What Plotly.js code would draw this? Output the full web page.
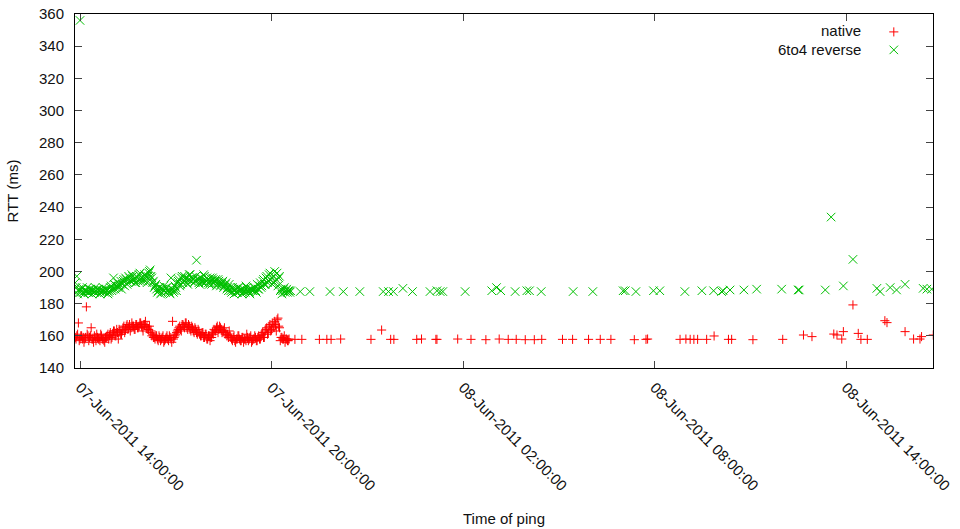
<!DOCTYPE html>
<html>
<head>
<meta charset="utf-8">
<script src="https://cdn.plot.ly/plotly-3.0.1.min.js"></script>
<style>
html,body{margin:0;padding:0;background:#fff;}
#chart{width:960px;height:529px;}
</style>
</head>
<body>
<div id="chart"></div>
<script>
// Time of ping, in minutes relative to 07-Jun-2011 14:00:00
var nativeMinutes = [
-9,-6,-3,0,3,6,9,12,15,18,21,24,27,30,33,36,39,42,45,48,51,54,57,60,63,66,69,72,75,78,81,84,87,90,93,96,99,102,105,108,
111,114,117,120,123,126,129,132,135,138,141,144,147,150,153,156,159,162,165,168,171,174,177,180,183,186,189,192,195,198,
201,204,207,210,213,216,219,222,225,228,231,234,237,240,243,246,249,252,255,258,261,264,267,270,273,276,279,282,285,288,
291,294,297,300,303,306,309,312,315,318,321,324,327,330,333,336,339,342,345,348,351,354,357,360,363,366,369,372,375,378,
381,384,387,390,393,
404,417,450,464,472,490,547,567,584,590,633,642,669,671,710,735,763,788,805,820,837,854,868,907,926,956,978,998,
1042,1064,1067,1128,1139,1147,1154,1161,1178,1192,1219,1225,1265,1321,1360,1376,1417,1423,1432,1435,1453,1463,1468,1480,
1513,1517,1551,1567,1579,1582,1604
];
// RTT (ms) of native pings
var nativeRtt = [
159,160,168,158,160,159,158,178,160,159,165,158,160,157,159,158,161,158,157,159,160,158,162,159,163,160,164,158,163,161,
165,162,166,164,167,165,166,164,167,165,166,168,165,167,169,166,164,162,160,159,158,160,157,159,158,160,157,159,158,160,
158,169,159,161,163,165,164,167,166,168,165,167,164,166,163,165,162,164,161,160,162,159,161,158,160,159,162,164,163,166,
164,165,162,163,161,160,159,160,158,159,157,158,160,158,157,159,158,157,159,158,160,157,158,159,157,160,158,161,159,163,
165,162,167,164,166,169,163,171,165,159,158,160,158,157,158,
157.8,157.8,157.8,157.8,157.8,158,157.8,163.6,157.8,157.8,157.8,158,157.8,157.8,158,157.8,157.6,158,157.8,157.8,157.6,157.6,157.8,157.8,157.8,157.8,157.8,157.8,
157.6,157.8,158,157.8,158,157.8,157.8,157.8,157.8,159.9,157.8,157.8,157.6,157.8,160.5,159.5,161.1,160.5,158,162.6,179.2,161.5,157.8,157.8,
169.4,168.2,162.6,158,158,159.5,160.5
];
// second batch of native pings inside the busy first hours
var nativeMinutesB = [
-7.5,-4.5,-1.5,1.5,4.5,7.5,10.5,13.5,16.5,19.5,22.5,25.5,28.5,31.5,34.5,37.5,40.5,43.5,46.5,49.5,52.5,
55.5,58.5,61.5,64.5,67.5,70.5,73.5,76.5,79.5,82.5,
85.5,88.5,91.5,94.5,97.5,100.5,103.5,106.5,109.5,112.5,115.5,118.5,121.5,124.5,127.5,130.5,
133.5,136.5,139.5,142.5,
145.5,148.5,151.5,154.5,157.5,160.5,163.5,166.5,169.5,172.5,175.5,178.5,181.5,
184.5,187.5,190.5,193.5,196.5,199.5,202.5,205.5,208.5,211.5,214.5,217.5,220.5,223.5,226.5,229.5,232.5,235.5,238.5,241.5,244.5,247.5,
250.5,253.5,256.5,259.5,262.5,265.5,268.5,271.5,274.5,277.5,280.5,
283.5,286.5,289.5,292.5,295.5,298.5,301.5,304.5,307.5,310.5,313.5,316.5,319.5,322.5,325.5,328.5,331.5,334.5,337.5,
340.5,343.5,346.5,349.5,352.5,355.5,358.5,361.5,364.5,367.5,370.5,373.5,
376.5,379.5,382.5,385.5,388.5,391.5
];
var nativeRttB = [
158,161,157,160,158,156,159,161,157,160,158,156,159,161,158,157,160,158,156,159,161,
160,158,161,163,160,162,164,161,163,166,
164,167,165,163,168,166,164,167,165,168,166,163,167,165,164,166,
163,161,159,160,
158,160,157,159,156,158,160,157,159,156,158,160,162,
164,166,163,167,165,168,164,166,163,165,162,164,161,163,160,162,159,161,158,160,157,159,
161,163,165,162,166,164,163,165,162,161,163,
159,157,160,156,158,160,157,159,156,158,161,157,159,156,158,160,157,159,158,
160,162,159,164,161,166,163,168,165,167,170,166,
157,159,158,156,158,157
];

var reverseMinutes = [
-9,-6,-3,0,3,6,9,12,15,18,21,24,27,30,33,36,39,42,45,48,51,54,57,60,63,66,69,72,75,78,81,84,87,90,93,96,99,102,105,108,
111,114,117,120,123,126,129,132,135,138,141,144,147,150,153,156,159,162,165,168,171,174,177,180,183,186,189,192,195,198,
201,204,207,210,213,216,219,222,225,228,231,234,237,240,243,246,249,252,255,258,261,264,267,270,273,276,279,282,285,288,
291,294,297,300,303,306,309,312,315,318,321,324,327,330,333,336,339,342,345,348,351,354,357,360,363,366,369,372,375,378,
381,384,387,390,393,396,
414,432,470,495,526,570,580,589,607,625,658,671,677,682,724,774,783,791,818,840,845,867,927,964,1021,1025,1045,1078,1090,
1137,1169,1191,1206,1209,1222,1248,1272,1319,1350,1352,1401,1412,1435,1453,1498,1504,1523,1535,1551,1585,1592,1601
];
// RTT (ms) of 6to4 reverse pings
var reverseRtt = [
193,197,188,356,189,187,188,188,187,189,188,188,187,188,189,188,187,188,188,189,188,187,190,188,196,189,191,190,192,189,
194,191,195,193,196,194,197,195,193,196,198,194,196,195,197,193,199,201,196,194,191,189,188,190,187,189,188,190,188,187,
196,189,188,190,193,195,192,197,194,196,193,195,198,196,195,194,207,195,192,196,193,197,194,195,192,194,196,193,195,192,
194,191,193,190,192,189,188,190,187,189,188,187,190,188,189,187,188,191,188,187,189,188,190,188,192,189,193,191,195,192,
197,194,199,196,193,200,195,191,197,189,188,190,188,187,188,188,
187.5,187.5,187.5,187.5,187.5,187.5,187.5,187.5,189.5,187.5,187.5,188,187.5,187.5,187.5,188,190,188,187.5,188,188,187.5,187.5,187.5,188,188,187.5,188,188,
187.5,188,188,187.5,188,188.5,188.5,189,189,188.5,188.5,188.5,233.8,191,207.5,189.5,187.5,190,188.5,192,189.5,189,189
];
// second batch of 6to4 reverse pings inside the busy first hours
var reverseMinutesB = [
-7.5,-4.5,-1.5,1.5,4.5,7.5,10.5,13.5,16.5,19.5,22.5,25.5,28.5,31.5,34.5,37.5,40.5,43.5,46.5,49.5,52.5,
55.5,58.5,61.5,64.5,67.5,70.5,73.5,76.5,79.5,82.5,
85.5,88.5,91.5,94.5,97.5,100.5,103.5,106.5,109.5,112.5,115.5,118.5,121.5,124.5,127.5,130.5,
133.5,136.5,139.5,142.5,
145.5,148.5,151.5,154.5,157.5,160.5,163.5,166.5,169.5,172.5,175.5,178.5,181.5,
184.5,187.5,190.5,193.5,196.5,199.5,202.5,205.5,208.5,211.5,214.5,217.5,220.5,223.5,226.5,229.5,232.5,235.5,238.5,
241.5,244.5,247.5,250.5,253.5,256.5,259.5,262.5,265.5,268.5,271.5,274.5,277.5,280.5,
283.5,286.5,289.5,292.5,295.5,298.5,301.5,304.5,307.5,310.5,313.5,316.5,319.5,322.5,325.5,328.5,331.5,334.5,337.5,
340.5,343.5,346.5,349.5,352.5,355.5,358.5,361.5,364.5,367.5,370.5,373.5,
376.5,379.5,382.5,385.5,388.5,391.5,394.5
];
var reverseRttB = [
190,186,189,187,190,186,188,190,187,189,186,188,190,187,189,186,188,190,187,189,186,
188,191,189,192,190,193,191,194,192,195,
196,192,197,194,198,195,193,197,194,199,196,194,198,195,197,200,
197,193,190,192,
187,190,186,189,191,187,190,188,186,189,187,191,188,
194,191,196,193,197,195,192,198,194,196,193,197,195,193,196,194,198,193,196,
193,196,192,195,194,191,195,193,192,194,191,193,190,192,
188,190,186,189,187,190,188,186,189,187,190,188,186,189,188,190,187,189,191,
190,194,192,196,193,198,195,192,197,194,199,196,
188,186,189,187,189,188,187
];

var seriesNames = ["native", "6to4 reverse"];
var xTickStart = "2011-06-07 14:00:00";
var xRange = ["2011-06-07 13:50:36", "2011-06-08 16:43:30"];
var yRange = [140, 360];

function toStamp(m) {
  var d = new Date(Date.UTC(2011, 5, 7, 14, 0, 0) + Math.round(m * 60000));
  function p(n){ return (n < 10 ? "0" : "") + n; }
  return d.getUTCFullYear() + "-" + p(d.getUTCMonth() + 1) + "-" + p(d.getUTCDate()) + " " +
         p(d.getUTCHours()) + ":" + p(d.getUTCMinutes()) + ":" + p(d.getUTCSeconds());
}

var font = "'Liberation Sans', Arial, Helvetica, sans-serif";

var traces = [
  {
    type: "scatter", mode: "markers", name: "", legend: "legend",
    x: nativeMinutes.concat(nativeMinutesB).map(toStamp), y: nativeRtt.concat(nativeRttB),
    marker: {symbol: "cross-thin-open", size: 6.5, color: "#ff0000", line: {color: "#ff0000", width: 1}},
    hoverinfo: "x+y"
  },
  {
    type: "scatter", mode: "markers", name: "", legend: "legend2",
    x: reverseMinutes.concat(reverseMinutesB).map(toStamp), y: reverseRtt.concat(reverseRttB),
    marker: {symbol: "x-thin-open", size: 8.5, color: "#00c000", line: {color: "#00c000", width: 1}},
    hoverinfo: "x+y"
  }
];

var axisCommon = {
  showgrid: false, zeroline: false,
  showline: true, linecolor: "#000", linewidth: 1,
  mirror: "ticks", ticks: "inside", ticklen: 7, tickcolor: "#444", tickwidth: 1,
  tickfont: {family: font, size: 15, color: "#111"}
};

var legendCommon = {
  x: 0.931, xanchor: "left", yanchor: "top",
  bgcolor: "rgba(0,0,0,0)", borderwidth: 0,
  font: {family: font, size: 14}
};

var layout = {
  width: 960, height: 529,
  margin: {l: 75, r: 27, t: 14, b: 161},
  paper_bgcolor: "#fff", plot_bgcolor: "#fff",
  font: {family: font, size: 15, color: "#111"},
  showlegend: true,
  legend: Object.assign({}, legendCommon, {y: 0.9935}),
  legend2: Object.assign({}, legendCommon, {y: 0.9427}),
  xaxis: Object.assign({}, axisCommon, {
    type: "date", range: xRange,
    tick0: xTickStart, dtick: 6 * 3600 * 1000,
    tickformat: "%d-%b-%Y %H:%M:%S", tickangle: 45,
    ticklabelstandoff: 4,
    title: {text: "Time of ping", font: {family: font, size: 15, color: "#111"}, standoff: 20}
  }),
  yaxis: Object.assign({}, axisCommon, {
    range: yRange, dtick: 20, tick0: 140,
    ticklabelstandoff: 7,
    title: {text: "RTT (ms)", font: {family: font, size: 15, color: "#111"}, standoff: 16}
  }),
  annotations: [
    {xref: "paper", yref: "paper", x: 0.9184, y: 0.952, xanchor: "right", yanchor: "middle",
     text: seriesNames[0], showarrow: false, font: {family: font, size: 15, color: "#111"}},
    {xref: "paper", yref: "paper", x: 0.9184, y: 0.901, xanchor: "right", yanchor: "middle",
     text: seriesNames[1], showarrow: false, font: {family: font, size: 15, color: "#111"}}
  ]
};

Plotly.newPlot("chart", traces, layout, {displayModeBar: false, staticPlot: true});
</script>
</body>
</html>
